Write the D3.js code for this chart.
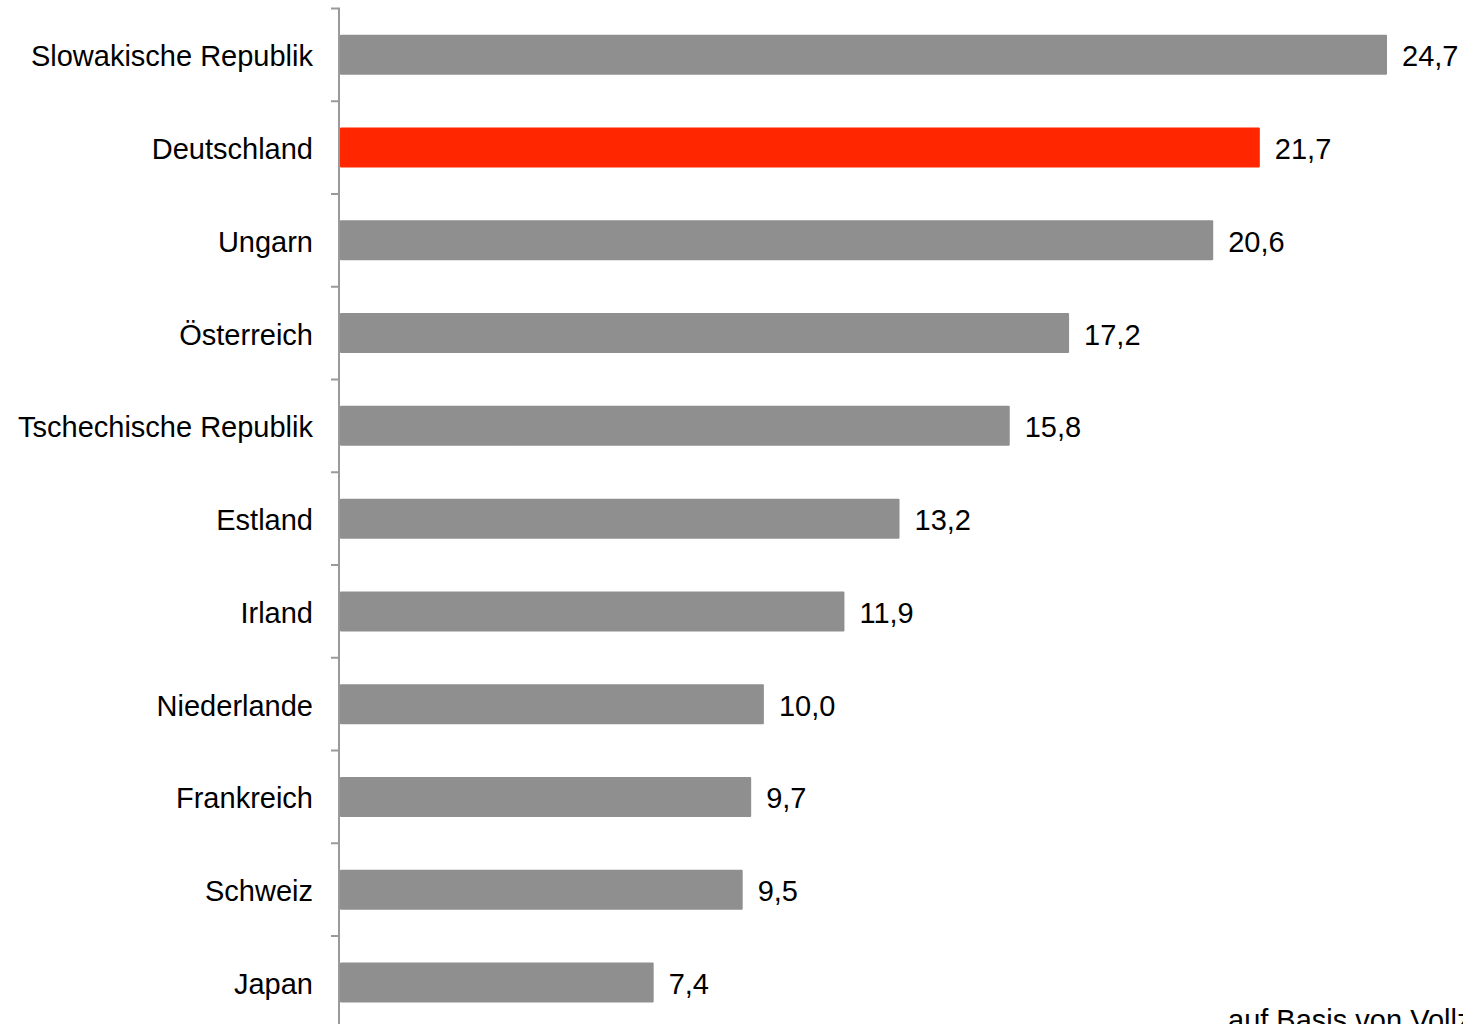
<!DOCTYPE html>
<html><head><meta charset="utf-8">
<script src="https://cdn.jsdelivr.net/npm/d3@7"></script>
<style>body{margin:0;background:#fff}svg{display:block}text{font-family:"Liberation Sans",Arial,sans-serif}</style>
</head><body>
<svg id="c" width="1463" height="1024"></svg>
<script>
const categories = ["Slowakische Republik","Deutschland","Ungarn","Österreich","Tschechische Republik","Estland","Irland","Niederlande","Frankreich","Schweiz","Japan"];
const values = [24.7,21.7,20.6,17.2,15.8,13.2,11.9,10.0,9.7,9.5,7.4];
const highlight = "Deutschland";
const footnote = "auf Basis von Vollzeitbeschäftigten";

const svg = d3.select("#c");
const x0 = 340;
const x = d3.scaleLinear().domain([0, 24.7]).range([x0, 1387]);
const y = d3.scaleBand().domain(categories).range([8.5, 8.5 + 92.75*11]).paddingInner(0.5687).paddingOuter(0.2843);
const fmt = v => d3.format(".1f")(v).replace(".", ",");
const fs = 29;

// bars
svg.selectAll("rect.bar").data(categories).enter().append("rect")
  .attr("x", x(0)).attr("y", d => y(d) + (y.bandwidth()-40)/2)
  .attr("width", (d,i) => x(values[i]) - x(0)).attr("height", 40)
  .attr("rx", 1)
  .attr("fill", d => d === highlight ? "#ff2600" : "#8f8f8f");

// axis
const step = y.step();
const ticks = d3.range(0, 12).map(i => 8.5 + i*step);
svg.append("line").attr("x1", 339).attr("x2", 339).attr("y1", 8.5).attr("y2", 1024)
  .attr("stroke", "#9a9a9a").attr("stroke-width", 2);
svg.selectAll("line.tick").data(ticks).enter().append("line")
  .attr("x1", 331).attr("x2", 340).attr("y1", d => d).attr("y2", d => d)
  .attr("stroke", "#9a9a9a").attr("stroke-width", 2);

// category labels
svg.selectAll("text.cat").data(categories).enter().append("text")
  .attr("x", 313).attr("y", d => y(d) + y.bandwidth()/2 + 11.5)
  .attr("text-anchor", "end").attr("font-size", fs).attr("fill", "#000").text(d => d);

// value labels
svg.selectAll("text.val").data(values).enter().append("text")
  .attr("x", v => x(v) + 15).attr("y", (v,i) => y(categories[i]) + y.bandwidth()/2 + 11.5)
  .attr("font-size", fs).attr("fill", "#000").text(fmt);

svg.append("text").attr("x", 1228).attr("y", 1030).attr("font-size", fs).attr("fill", "#000").text(footnote);
</script>
</body></html>
